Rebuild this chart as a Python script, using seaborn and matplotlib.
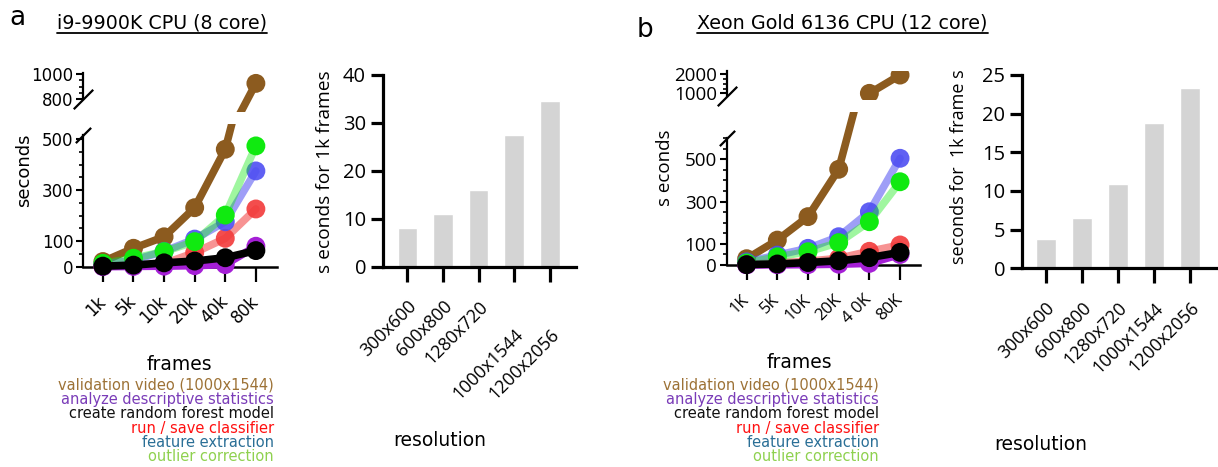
import numpy as np
import pandas as pd
import matplotlib
matplotlib.use("Agg")
import matplotlib.pyplot as plt
import seaborn as sns
from matplotlib.ticker import FixedLocator, NullLocator
from matplotlib.lines import Line2D

# ---------------- data ----------------
frames_a = ["1k", "5k", "10k", "20k", "40k", "80k"]
frames_b = ["1K", "5K", "10K", "20K", "4 0K", "80K"]
series_names = ["validation video (1000x1544)", "analyze descriptive statistics",
                "create random forest model", "run / save classifier",
                "feature extraction", "outlier correction"]

# panel a (i9-9900K), seconds
a_video = [20, 72, 117, 231, 460, 925]
a_stats = [0, 1, 2, 4, 8, 80]
a_forest = [2, 6, 15, 22, 35, 63]
a_classifier = [2, 5, 12, 55, 111, 226]
a_features = [10, 25, 60, 108, 176, 375]
a_outlier = [13, 33, 59, 98, 202, 473]

# panel b (Xeon Gold 6136), seconds
b_video = [30, 118, 229, 453, 1000, 1960]
b_stats = [0, 1, 2, 4, 8, 50]
b_forest = [2, 5, 12, 20, 35, 60]
b_classifier = [4, 10, 18, 32, 65, 95]
b_features = [15, 47, 79, 134, 252, 505]
b_outlier = [10, 39, 63, 106, 205, 394]

resolutions = ["300x600", "600x800", "1280x720", "1000x1544", "1200x2056"]
a_per1k = [8.0, 11.1, 16.0, 27.5, 34.6]
b_per1k = [3.8, 6.55, 10.95, 18.8, 23.3]

# ---------------- style ----------------
sns.set_style("ticks")
plt.rcParams["font.family"] = ["DejaVu Sans"]
for k in ("text.color", "axes.labelcolor", "xtick.color", "ytick.color", "axes.edgecolor"):
    plt.rcParams[k] = "black"
W, H = 1218, 467
fig = plt.figure(figsize=(W / 100, H / 100), dpi=100)

def fx(x):
    return x / W

def fy(y):
    return 1 - y / H

def add_ax(left, right, top, bottom):
    return fig.add_axes([fx(left), fy(bottom), (right - left) / W, (bottom - top) / H])

# draw order bottom -> top
line_colors = {"video": "#8c5b1f", "classifier": "#f23a3a", "features": "#4f4ff2",
               "outlier": "#10ea10", "stats": "#a51fd6", "forest": "#000000"}
line_alpha = {"video": 1.0, "classifier": 0.55, "features": 0.55,
              "outlier": 0.4, "stats": 1.0, "forest": 1.0}
marker_alpha = {"video": 1.0, "classifier": 0.9, "features": 0.9,
                "outlier": 1.0, "stats": 1.0, "forest": 1.0}
order = ["video", "classifier", "features", "outlier", "stats", "forest"]

legend_colors = ["#9d7236", "#7a3cb8", "#111111", "#ff1010", "#2a6f96", "#8fd14f"]

def draw_series(ax, data, point_cut=None, line_cut=None):
    x = np.arange(len(frames_a))
    for z, key in enumerate(order):
        vals = np.asarray(data[key], dtype=float)
        lv = vals if line_cut is None else np.where(vals >= line_cut, vals, np.nan)
        pv = vals if point_cut is None else np.where(vals >= point_cut, vals, np.nan)
        if np.isfinite(lv).sum() >= 2:
            sns.lineplot(x=x, y=lv, ax=ax, color=line_colors[key], lw=5.5,
                         alpha=line_alpha[key], zorder=3 + z, solid_capstyle="round")
        if np.isfinite(pv).any():
            sns.scatterplot(x=x, y=pv, ax=ax, color=line_colors[key], s=185,
                            edgecolor="none", alpha=marker_alpha[key], zorder=3.5 + z)

def style_line_axes(low, up, xlim, low_lim, low_bound, low_major, low_minor,
                    up_lim, up_bound, up_major, up_minor, labels, font, ysize):
    for ax in (low, up):
        ax.set_xlim(*xlim)
        ax.spines["top"].set_visible(False)
        ax.spines["right"].set_visible(False)
        ax.set_facecolor("none")
        ax.spines["left"].set_linewidth(1.6)
    low.set_ylim(*low_lim)
    low.spines["left"].set_bounds(*low_bound)
    low.spines["bottom"].set_position(("data", 0))
    low.spines["bottom"].set_linewidth(1.8)
    low.yaxis.set_major_locator(FixedLocator(low_major))
    low.yaxis.set_minor_locator(FixedLocator(low_minor))
    low.set_xticks(np.arange(len(labels)))
    low.set_xticklabels(labels, rotation=45, ha="right", va="center",
                        rotation_mode="anchor", fontsize=12, family=font)
    low.tick_params(axis="x", length=11, width=1.6, pad=12, direction="out")
    up.set_ylim(*up_lim)
    up.spines["left"].set_bounds(*up_bound)
    up.spines["bottom"].set_visible(False)
    up.xaxis.set_major_locator(NullLocator())
    up.yaxis.set_major_locator(FixedLocator(up_major))
    up.yaxis.set_minor_locator(FixedLocator(up_minor))
    for ax in (low, up):
        ax.tick_params(axis="y", which="major", length=5, width=1.5, pad=2,
                       direction="out", labelsize=ysize)
        ax.tick_params(axis="y", which="minor", length=3, width=1.2, direction="out")
        for t in ax.get_yticklabels():
            t.set_family(font)
        ax.set_xlabel("")
        ax.set_ylabel("")
    # break marks
    slash = [(-1, -1), (1, 1)]
    low.plot([xlim[0]], [low_bound[1]], marker=slash, ms=11, mew=1.6, color="k",
             clip_on=False, zorder=20)
    up.plot([xlim[0]], [up_bound[0]], marker=slash, ms=14, mew=1.6, color="k",
            clip_on=False, zorder=20)

# ---------------- panel a line ----------------
a_data = {"video": a_video, "stats": a_stats, "forest": a_forest,
          "classifier": a_classifier, "features": a_features, "outlier": a_outlier}
a_low = add_ax(83, 277, 123.7, 275.6)
a_up = add_ax(83, 277, 72.75, 111.5)
a_up_lim = (700, 1010)
draw_series(a_low, a_data)
draw_series(a_up, a_data, point_cut=a_up_lim[0], line_cut=400)
style_line_axes(a_low, a_up, (-0.65, 5.69), (-35, 560), (0, 515), [0, 100, 300, 500],
                list(range(0, 501, 50)), a_up_lim, (800, 1005), [800, 1000],
                list(range(800, 1001, 50)), frames_a, "DejaVu Sans", 12)

# ---------------- panel b line ----------------
b_data = {"video": b_video, "stats": b_stats, "forest": b_forest,
          "classifier": b_classifier, "features": b_features, "outlier": b_outlier}
b_low = add_ax(726.7, 920, 111.8, 273.5)
b_up = add_ax(726.7, 920, 70.5, 100)
b_up_lim = (650, 2200)
draw_series(b_low, b_data)
draw_series(b_up, b_data, point_cut=b_up_lim[0], line_cut=900)
style_line_axes(b_low, b_up, (-0.65, 5.65), (-40, 725), (0, 600), [0, 100, 300, 500],
                list(range(0, 601, 50)), b_up_lim, (880, 2180), [1000, 2000],
                list(range(1000, 2001, 250)), frames_b, "Open Sans", 13.5)

# ---------------- bar charts ----------------
def bar_panel(ax, values, ylim, yticks, xlim, shifted=()):
    df = pd.DataFrame({"resolution": resolutions, "seconds": values})
    sns.barplot(data=df, x="resolution", y="seconds", color="#d4d4d4", width=0.55,
                saturation=1, ax=ax, zorder=1)
    ax.set_xlim(*xlim)
    ax.set_ylim(*ylim)
    ax.set_yticks(yticks)
    ax.spines["top"].set_visible(False)
    ax.spines["right"].set_visible(False)
    for s in ("left", "bottom"):
        ax.spines[s].set_linewidth(2.3)
    ax.tick_params(axis="y", length=9, width=2.3, pad=3, labelsize=14.5)
    ax.tick_params(axis="x", length=11, width=2.3, pad=11, labelsize=13)
    ax.set_xticks(np.arange(len(resolutions)))
    ax.set_xticklabels(resolutions, rotation=45, ha="right", va="top",
                       rotation_mode="anchor", family="Open Sans")
    for t in ax.get_yticklabels():
        t.set_family("Open Sans")
    ax.set_xlabel("")
    ax.set_ylabel("")
    ax.set_facecolor("none")
    ticks = ax.xaxis.get_major_ticks()
    for i in shifted:
        ticks[i].set_pad(31)

a_bar = add_ax(382.7, 576, 75, 266.7)
bar_panel(a_bar, a_per1k, (0, 40), [0, 10, 20, 30, 40], (-0.69, 4.73), shifted=(3, 4))
b_bar = add_ax(1021.7, 1217, 75, 268.3)
bar_panel(b_bar, b_per1k, (0, 25), [0, 5, 10, 15, 20, 25], (-0.67, 4.74))

# ---------------- texts ----------------
fig.text(fx(9), fy(25), "a", fontsize=19, ha="left", va="baseline")
fig.text(fx(637), fy(37), "b", fontsize=19, ha="left", va="baseline")
t_a = fig.text(fx(57), fy(28.5), "i9-9900K CPU (8 core)", fontsize=13.7,
               ha="left", va="baseline")
t_b = fig.text(fx(697), fy(28.5), "Xeon Gold 6136 CPU (12 core)", fontsize=13.8,
               ha="left", va="baseline")

fig.text(fx(24), fy(170), "seconds", rotation=90, fontsize=13, ha="center", va="center")
fig.text(fx(665), fy(168), "s econds", rotation=90, fontsize=13.5, ha="center",
         va="center", family="Open Sans")
fig.text(fx(325), fy(172), "s econds for 1k frames", rotation=90, fontsize=13.8,
         ha="center", va="center", family="Open Sans")
fig.text(fx(959), fy(167), "seconds for  1k frame s", rotation=90, fontsize=13,
         ha="center", va="center", family="Open Sans")

fig.text(fx(179), fy(365), "frames", fontsize=13.5, ha="center", va="center")
fig.text(fx(799), fy(363), "frames", fontsize=13.5, ha="center", va="center")
fig.text(fx(440), fy(440), "resolution", fontsize=13.5, ha="center", va="center")
fig.text(fx(1041), fy(444), "resolution", fontsize=13.5, ha="center", va="center")

for right_x in (274, 879):
    for i, (name, col) in enumerate(zip(series_names, legend_colors)):
        fig.text(fx(right_x), fy(385 + i * 14.35), name, color=col, fontsize=10.5,
                 ha="right", va="center")

# underline titles
fig.canvas.draw()
r = fig.canvas.get_renderer()
for t in (t_a, t_b):
    bb = t.get_window_extent(r)
    yline = bb.y0 - 0.5
    fig.add_artist(Line2D([bb.x0 / W, bb.x1 / W], [yline / H, yline / H],
                          transform=fig.transFigure, color="k", lw=1.3))

fig.savefig("out.png", dpi=100)
